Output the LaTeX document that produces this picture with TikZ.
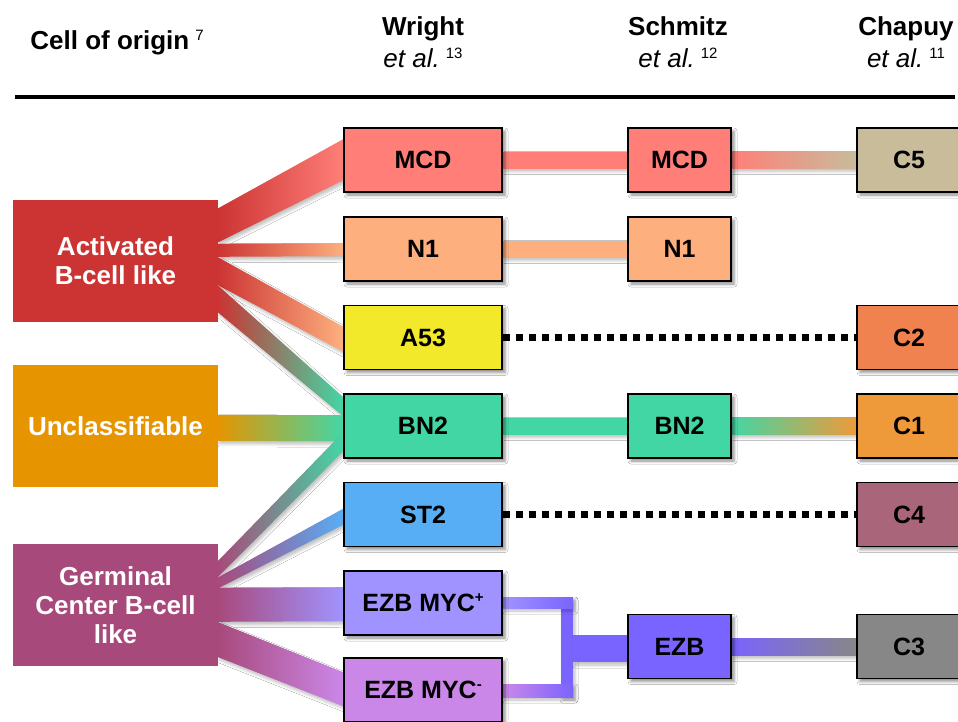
\documentclass[tikz,border=0pt]{standalone}
\usepackage{fontspec}
\setmainfont{Liberation Sans}
\usepackage{tikz}
\usetikzlibrary{calc}
\usetikzlibrary{shadows}
\usetikzlibrary{shadows.blur}

\definecolor{abccol}{HTML}{CC3333}
\definecolor{unccol}{HTML}{E69500}
\definecolor{gcbcol}{HTML}{A8497B}
\definecolor{mcdcol}{HTML}{FF7F78}
\definecolor{n1col}{HTML}{FDB07E}
\definecolor{a53col}{HTML}{F2E92B}
\definecolor{bn2col}{HTML}{43D6A5}
\definecolor{st2col}{HTML}{58AEF5}
\definecolor{mycpcol}{HTML}{A093FF}
\definecolor{mycmcol}{HTML}{CB87E8}
\definecolor{ezbcol}{HTML}{7A64FF}
\definecolor{c5col}{HTML}{C8BC9B}
\definecolor{c2col}{HTML}{EF824E}
\definecolor{c1col}{HTML}{EE9A3A}
\definecolor{c4col}{HTML}{A9667A}
\definecolor{c3col}{HTML}{878787}

\pgfdeclarelayer{background}
\pgfsetlayers{background,main}

\newcommand\refnum[1]{\hspace{6pt}\raisebox{9pt}{\normalfont\fontsize{15}{15}\selectfont #1}}
\newcommand\mycsign[1]{\raisebox{9pt}{\fontsize{15}{15}\selectfont #1}}

\tikzset{
    head/.style={
        align=center, inner sep=0pt,
        font=\fontsize{26}{32}\selectfont\bfseries,
    },
    origin/.style={
        rectangle, inner sep=0pt, align=center,
        minimum width=205pt, minimum height=122pt,
        text=white, font=\fontsize{26}{29}\selectfont\bfseries,
    },
    subtype/.style={
        rectangle, draw=black, line width=1.6pt, inner sep=0pt,
        minimum height=64pt,
        font=\fontsize{25}{29}\selectfont\bfseries,
        blur shadow={shadow xshift=3pt, shadow yshift=-3pt,
            shadow blur radius=3pt, shadow opacity=45},
    },
    wright/.style={subtype, minimum width=158pt},
    schmitz/.style={subtype, minimum width=103pt},
    chapuy/.style={subtype, minimum width=104pt},
    band/.style={
        blur shadow={shadow xshift=2pt, shadow yshift=-3pt,
            shadow blur radius=3pt, shadow opacity=25},
    },
    dotlink/.style={
        draw=black, line width=7pt, dash pattern=on 7pt off 6pt,
    },
}

\begin{document}
\begin{tikzpicture}[x=1pt, y=-1pt]
    \useasboundingbox (0,0) rectangle (958,721);

    % headers
    \node (hcoo) at(117,43) [head] {Cell of origin\refnum{7}};
    \node (hwright) at(423,42) [head] {Wright\\{\mdseries\itshape et al.}\refnum{13}};
    \node (hschmitz) at(678,42) [head] {Schmitz\\{\mdseries\itshape et al.}\refnum{12}};
    \node (hchapuy) at(906,42) [head] {Chapuy\\{\mdseries\itshape et al.}\refnum{11}};
    \draw[line width=3.5pt] (15,97) -- (955,97);

    % cell of origin
    \node (abc) at(115.5,261) [origin, fill=abccol] {Activated\\B-cell like};
    \node (unc) at(115.5,426) [origin, fill=unccol] {Unclassifiable};
    \node (gcb) at(115.5,605) [origin, fill=gcbcol] {Germinal\\Center B-cell\\like};

    % Wright et al.
    \node (wmcd) at(423,160) [wright, fill=mcdcol] {MCD};
    \node (wn1) at(423,249) [wright, fill=n1col] {N1};
    \node (wa53) at(423,337.5) [wright, fill=a53col] {A53};
    \node (wbn2) at(423,426) [wright, fill=bn2col] {BN2};
    \node (wst2) at(423,514.5) [wright, fill=st2col] {ST2};
    \node (wmycp) at(423,603) [wright, fill=mycpcol] {EZB MYC\mycsign{+}};
    \node (wmycm) at(423,690) [wright, fill=mycmcol] {EZB MYC\mycsign{-}};

    % Schmitz et al.
    \node (smcd) at(679.5,160) [schmitz, fill=mcdcol] {MCD};
    \node (sn1) at(679.5,249) [schmitz, fill=n1col] {N1};
    \node (sbn2) at(679.5,426) [schmitz, fill=bn2col] {BN2};
    \node (sezb) at(679.5,646.5) [schmitz, fill=ezbcol] {EZB};

    % Chapuy et al.
    \node (cc5) at(909,160) [chapuy, fill=c5col] {C5};
    \node (cc2) at(909,337.5) [chapuy, fill=c2col] {C2};
    \node (cc1) at(909,426) [chapuy, fill=c1col] {C1};
    \node (cc4) at(909,514.5) [chapuy, fill=c4col] {C4};
    \node (cc3) at(909,646.5) [chapuy, fill=c3col] {C3};

    \coordinate (joint) at(567,646);

    \begin{pgfonlayer}{background}
        \fill[white] (0,0) rectangle (958,721);

        % cell of origin -> Wright
        \shade[band, left color=abccol, right color=mcdcol]
            ($(abc.north east)+(-1,9)$) -- ($(wmcd.north west)+(0,12)$)
            -- ($(wmcd.north west)+(0,53)$) -- ($(abc.north east)+(-1,43)$) -- cycle;
        \shade[band, left color=abccol, right color=n1col]
            ($(abc.north east)+(-1,44)$) -- ($(wn1.north west)+(0,27)$)
            -- ($(wn1.north west)+(0,40)$) -- ($(abc.north east)+(-1,57)$) -- cycle;
        \shade[band, left color=abccol, right color=n1col]
            ($(abc.north east)+(-1,57)$) -- ($(wa53.north west)+(0,22)$)
            -- ($(wa53.north west)+(0,47)$) -- ($(abc.north east)+(-1,85)$) -- cycle;
        \shade[band, left color=abccol, right color=bn2col]
            ($(abc.north east)+(-1,85)$) -- ($(wbn2.north west)+(0,4)$)
            -- ($(wbn2.north west)+(0,23)$) -- ($(abc.north east)+(-1,112)$) -- cycle;
        \shade[band, left color=unccol, right color=bn2col]
            ($(unc.north east)+(-1,50)$) -- ($(wbn2.north west)+(0,22)$)
            -- ($(wbn2.north west)+(0,48)$) -- ($(unc.north east)+(-1,76)$) -- cycle;
        \shade[band, left color=gcbcol, right color=bn2col]
            ($(gcb.north east)+(-1,18)$) -- ($(wbn2.north west)+(0,39)$)
            -- ($(wbn2.north west)+(0,58)$) -- ($(gcb.north east)+(-1,34)$) -- cycle;
        \shade[band, left color=gcbcol, right color=st2col]
            ($(gcb.north east)+(-1,34)$) -- ($(wst2.north west)+(0,27)$)
            -- ($(wst2.north west)+(0,43)$) -- ($(gcb.north east)+(-1,45)$) -- cycle;
        \shade[band, left color=gcbcol, right color=mycpcol]
            ($(gcb.north east)+(-1,44)$) -- ($(wmycp.north west)+(0,17)$)
            -- ($(wmycp.north west)+(0,51)$) -- ($(gcb.north east)+(-1,78)$) -- cycle;
        \shade[band, left color=gcbcol, right color=mycmcol]
            ($(gcb.north east)+(-1,78)$) -- ($(wmycm.north west)+(0,15)$)
            -- ($(wmycm.north west)+(0,49)$) -- ($(gcb.north east)+(-1,113)$) -- cycle;

        % Wright -> Schmitz -> Chapuy
        \fill[band, mcdcol] ($(wmcd.east)+(0,-8.5)$) rectangle ($(smcd.west)+(0,8.5)$);
        \fill[band, n1col] ($(wn1.east)+(0,-8.5)$) rectangle ($(sn1.west)+(0,8.5)$);
        \fill[band, bn2col] ($(wbn2.east)+(0,-8.5)$) rectangle ($(sbn2.west)+(0,8.5)$);
        \shade[band, left color=mcdcol, right color=c5col]
            ($(smcd.east)+(0,-8.5)$) rectangle ($(cc5.west)+(0,8.5)$);
        \shade[band, left color=bn2col, right color=c1col]
            ($(sbn2.east)+(0,-8.5)$) rectangle ($(cc1.west)+(0,8.5)$);
        \draw[dotlink] (wa53.east) -- (cc2.west);
        \draw[dotlink] (wst2.east) -- (cc4.west);

        % EZB bracket
        \fill[band, ezbcol] ($(joint)+(-6,-49)$) rectangle ($(joint)+(6,51)$);
        \shade[band, left color=mycpcol, right color=ezbcol]
            ($(wmycp.east)+(0,-6)$) rectangle ($(joint)+(6,-38)$);
        \shade[band, left color=mycmcol, right color=ezbcol]
            ($(wmycm.east)+(0,-6)$) rectangle ($(joint)+(6,51)$);
        \fill[band, ezbcol] ($(joint)+(6,-11)$) rectangle ($(sezb.west)+(0,15.5)$);
        \shade[band, left color=ezbcol, right color=c3col]
            ($(sezb.east)+(0,-8)$) rectangle ($(cc3.west)+(0,9)$);
    \end{pgfonlayer}
\end{tikzpicture}
\end{document}
